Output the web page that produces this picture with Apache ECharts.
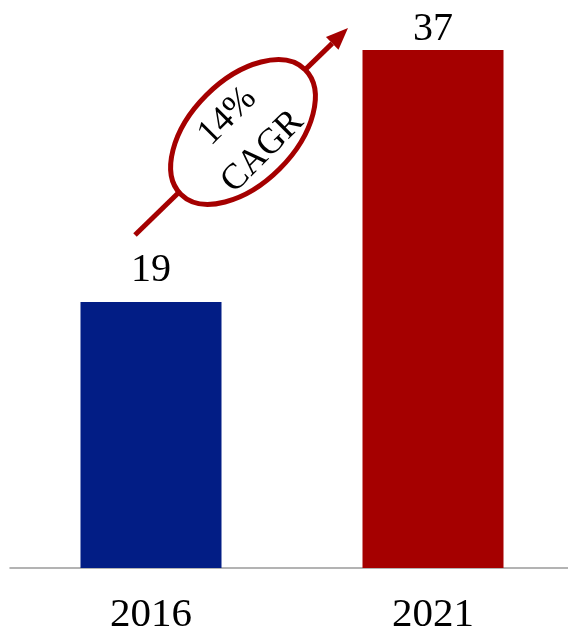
<!DOCTYPE html>
<html>
<head>
<meta charset="utf-8">
<script src="https://cdn.jsdelivr.net/npm/echarts@6/dist/echarts.min.js"></script>
<style>
	html, body { margin: 0; padding: 0; background: #fff; }
	#chart { width: 568px; height: 633px; }
</style>
</head>
<body>
<div id="chart"></div>
<script>
var years = ['2016', '2021'];
var values = [19, 37];
var barColors = ['#021d85', '#a50000'];
var labelGaps = [12, 1];
var cagrText = ['14%', 'CAGR'];

var font = '"Liberation Serif", "DejaVu Serif", serif';
var red = '#a50000';

var chart = echarts.init(document.getElementById('chart'));

// arrow from lower left to upper right, tip with a small head
var start = [135, 235];
var tip = [348, 28];
var dx = tip[0] - start[0], dy = tip[1] - start[1];
var len = Math.sqrt(dx * dx + dy * dy);
var ux = dx / len, uy = dy / len;
var headLen = 22, headHalf = 9;
var base = [tip[0] - ux * headLen, tip[1] - uy * headLen];

var options = {
	animation: false,
	grid: {
		left: 10,
		right: -6,
		top: 50,
		bottom: 65,
		outerBoundsMode: 'none',
		containLabel: false
	},
	xAxis: {
		type: 'category',
		data: years,
		axisLine: { show: true, lineStyle: { color: '#9a9a9a', width: 1.5 } },
		axisTick: { show: false },
		axisLabel: {
			color: '#000',
			fontFamily: font,
			fontSize: 41,
			margin: 27
		}
	},
	yAxis: {
		type: 'value',
		min: 0,
		max: 37,
		show: false,
		splitLine: { show: false }
	},
	series: [
		{
			type: 'bar',
			barWidth: 141,
			data: values.map(function (v, i) {
				return {
					value: v,
					itemStyle: { color: barColors[i] },
					label: { distance: labelGaps[i] }
				};
			}),
			label: {
				show: true,
				position: 'top',
				color: '#000',
				fontFamily: font,
				fontSize: 40
			}
		}
	],
	graphic: [
		{
			type: 'line',
			shape: { x1: start[0], y1: start[1], x2: base[0], y2: base[1] },
			style: { stroke: red, lineWidth: 5 },
			z: 10
		},
		{
			type: 'polygon',
			shape: {
				points: [
					tip,
					[base[0] - uy * headHalf, base[1] + ux * headHalf],
					[base[0] + uy * headHalf, base[1] - ux * headHalf]
				]
			},
			style: { fill: red },
			z: 10
		},
		{
			type: 'group',
			x: 243,
			y: 132,
			rotation: Math.PI / 4,
			z: 11,
			children: [
				{
					type: 'ellipse',
					shape: { cx: 0, cy: 0, rx: 88, ry: 52 },
					style: { fill: '#fff', stroke: red, lineWidth: 5 },
					z: 11
				},
				{
					type: 'text',
					x: 0,
					y: 3,
					style: {
						text: cagrText.join('\n'),
						fill: '#000',
						font: '36px ' + font,
						lineHeight: 50,
						align: 'center',
						verticalAlign: 'middle'
					},
					z: 12
				}
			]
		}
	]
};

chart.setOption(options);
</script>
</body>
</html>
